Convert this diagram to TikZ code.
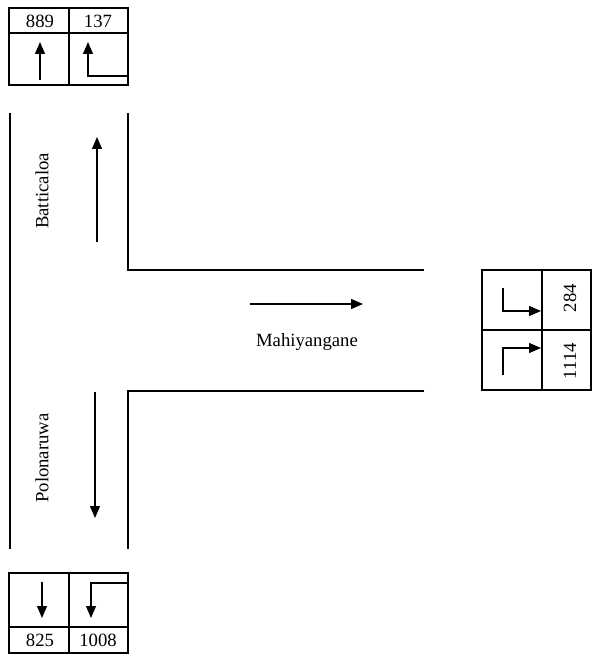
\documentclass[tikz,border=0pt]{standalone}
\usepackage{fontspec}
\setmainfont{Liberation Serif}
\usetikzlibrary{arrows.meta}
\begin{document}
\begin{tikzpicture}[x=1pt,y=-1pt,
  road/.style={line width=2.8pt},
  frame/.style={line width=2.2pt},
  divider/.style={line width=1.6pt},
  flow/.style={line width=1.1pt,-{Triangle[length=12pt,width=10pt]}},
  turn/.style={line width=1.1pt,-{Triangle[length=12pt,width=10pt]}},
  count/.style={font=\fontsize{18.7}{20}\selectfont,inner sep=0pt},
  place/.style={font=\fontsize{18.7}{20}\selectfont,inner sep=0pt}]
\useasboundingbox (0,0) rectangle (592,655);

% counts at the northern approach
\draw[frame] (9,8) rectangle (128,85);
\draw[divider] (9,33) -- (128,33) (69,8) -- (69,85);
\node[count] (n889) at (40,21) {889};
\node[count] (n137) at (98,21) {137};
\coordinate (a1s) at (40,80); \coordinate (a1e) at (40,42);
\draw[flow] (a1s) -- (a1e);
\coordinate (a2s) at (127,76); \coordinate (a2e) at (88,42);
\draw[turn] (a2s) -| (a2e);

% road edges
\draw[road] (10,113) -- (10,549);
\draw[road] (128,113) -- (128,270) -- (424,270);
\draw[road] (424,391) -- (128,391) -- (128,549);

% traffic directions and place names
\coordinate (b1) at (97,242); \coordinate (b2) at (97,137);
\draw[flow] (b1) -- (b2);
\node[place,rotate=90] (batt) at (42,191) {Batticaloa};
\coordinate (p1) at (95,392); \coordinate (p2) at (95,518);
\draw[flow] (p1) -- (p2);
\node[place,rotate=90] (polo) at (42,458) {Polonaruwa};
\coordinate (m1) at (250,304); \coordinate (m2) at (363,304);
\draw[flow] (m1) -- (m2);
\node[place] (mahi) at (307,342) {Mahiyangane};

% counts at the eastern approach
\draw[frame] (482,270) rectangle (591,390);
\draw[divider] (482,330) -- (591,330) (542,270) -- (542,390);
\node[count,rotate=90] (n284) at (570,298) {284};
\node[count,rotate=90] (n1114) at (570,361) {1114};
\coordinate (r1s) at (503,288); \coordinate (r1e) at (541,311);
\draw[turn] (r1s) |- (r1e);
\coordinate (r2s) at (503,375); \coordinate (r2e) at (541,348);
\draw[turn] (r2s) |- (r2e);

% counts at the southern approach
\draw[frame] (9,573) rectangle (128,653);
\draw[divider] (9,627) -- (128,627) (69,573) -- (69,653);
\node[count] (n825) at (40,640) {825};
\node[count] (n1008) at (98,640) {1008};
\coordinate (s1s) at (42,582); \coordinate (s1e) at (42,618);
\draw[flow] (s1s) -- (s1e);
\coordinate (s2s) at (127,583); \coordinate (s2e) at (91,618);
\draw[turn] (s2s) -| (s2e);
\end{tikzpicture}
\end{document}
